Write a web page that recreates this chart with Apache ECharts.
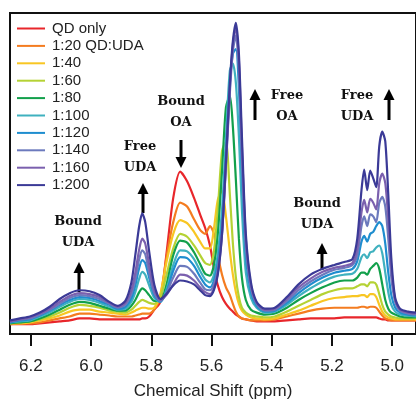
<!DOCTYPE html>
<html>
<head>
<meta charset="utf-8">
<script src="https://cdn.jsdelivr.net/npm/echarts@6/dist/echarts.min.js"></script>
<style>html,body{margin:0;padding:0;background:#fff}#c{width:416px;height:405px}</style>
</head>
<body>
<div id="c"></div>
<script>
// Chemical shift sample positions (ppm)
const ppm = [6.269,6.236,6.203,6.170,6.137,6.104,6.071,6.038,6.005,5.972,
  5.939,5.912,5.886,5.866,5.853,5.840,5.830,5.820,5.807,5.790,
  5.770,5.750,5.727,5.704,5.681,5.658,5.638,5.621,5.605,5.592,
  5.579,5.565,5.552,5.539,5.529,5.519,5.509,5.499,5.486,5.469,
  5.450,5.423,5.390,5.350,5.311,5.271,5.231,5.192,5.159,5.132,
  5.116,5.102,5.093,5.083,5.073,5.063,5.053,5.043,5.033,5.023,
  5.013,5.003,4.990,4.974,4.947,4.921];

const seriesNames = ['QD only','1:20 QD:UDA','1:40','1:60','1:80','1:100','1:120','1:140','1:160','1:200'];

// Intensities (arbitrary units)
const qdOnly = [10,10,10,11,12,13,14,16,16,15, 15,15,15,15,15,15,16,16,18,25, 33,81,140,167,157,140,123,109,91,68, 50,38,31,26,23,20,18,16,15,14, 13,13,13,14,15,16,16,16,17,17, 17,17,17,17,17,17,17,16,15,15, 14,14,14,14,14,14];
const r20 = [10,11,11,12,14,16,18,21,21,20, 19,18,18,18,19,20,21,21,21,25, 38,78,115,135,131,118,107,103,111,103, 81,61,48,40,31,23,18,16,15,14, 14,14,15,18,21,24,26,27,27,27, 27,28,28,27,28,28,27,23,19,16, 15,14,14,14,14,14];
const r40 = [11,11,12,14,16,19,23,25,25,23, 22,21,20,22,24,26,27,27,26,27, 41,73,103,117,114,105,95,88,88,108, 138,147,121,85,61,43,31,24,20,17, 16,15,16,20,24,29,34,37,38,39, 39,40,40,38,41,41,38,30,23,19, 17,16,15,15,15,15];
const r60 = [11,12,13,15,18,22,27,30,29,27, 24,23,22,25,29,33,35,34,32,31, 38,60,88,103,100,91,81,73,71,85, 128,188,198,143,93,58,38,27,22,19, 18,17,18,23,29,35,41,45,47,47, 49,51,51,49,53,53,51,41,30,23, 20,18,17,16,16,16];
const r80 = [11,12,13,16,20,25,30,33,32,29, 26,24,24,29,35,43,47,45,40,34, 34,50,81,96,94,84,72,62,60,71, 103,168,233,245,213,158,98,58,35,25, 22,20,21,27,35,42,48,53,55,55, 58,63,63,61,67,70,73,67,51,35, 26,22,20,18,17,17];
const r100 = [12,13,14,18,22,28,33,36,35,32, 28,25,26,33,43,57,64,61,50,37, 33,45,71,86,85,77,65,56,53,61, 83,128,203,271,278,258,203,128,63,37, 27,22,23,30,39,47,54,59,61,62, 67,79,82,78,84,85,89,91,83,63, 43,30,23,20,19,18];
const r120 = [12,14,15,19,24,30,35,38,37,34, 30,26,28,37,50,68,76,73,58,40, 33,43,65,79,78,70,59,51,48,55, 73,113,183,258,288,293,253,168,81,43, 29,23,24,32,42,51,58,63,65,67, 75,95,101,95,103,105,111,115,111,93, 63,40,27,22,20,19];
const r140 = [13,15,16,20,25,31,37,40,39,36, 31,27,30,41,56,77,86,82,63,42, 34,42,58,70,69,62,53,46,45,51, 67,105,173,248,291,307,271,183,91,47, 31,24,25,34,45,54,61,66,68,71, 81,111,121,111,123,121,115,135,141,131, 98,58,33,24,21,20];
const r160 = [13,15,17,21,26,33,39,42,41,38, 32,28,32,45,63,87,98,93,71,45, 35,40,51,61,60,55,48,43,41,47, 63,103,175,253,298,315,281,193,98,50, 32,25,26,36,48,57,64,68,70,73, 88,125,138,125,139,135,128,155,165,155, 118,68,35,25,22,21];
const r200 = [14,16,18,22,28,36,42,45,44,40, 33,29,34,53,81,111,124,115,85,51, 36,41,50,55,54,51,45,40,39,45, 61,103,178,258,301,320,288,203,103,53, 33,26,27,38,51,61,67,71,74,77, 98,148,169,148,168,160,151,193,208,198, 143,78,37,26,23,22];

const tickValues = [6.2,6.0,5.8,5.6,5.4,5.2,5.0];
const allValues = [qdOnly,r20,r40,r60,r80,r100,r120,r140,r160,r200];
const colors = ['#e8262b','#f47c20','#f8c623','#b5d234','#12a04b','#3fb1bf','#1e8dcf','#6c7abd','#7b60ae','#3b3a97'];

const chart = echarts.init(document.getElementById('c'), null, {renderer:'canvas'});

const series = seriesNames.map((name,k)=>({
  name: name,
  type: 'line',
  symbol: 'none',
  smooth: 0.25,
  lineStyle: {width: 2.2, color: colors[k]},
  itemStyle: {color: colors[k]},
  data: ppm.map((p,i)=>[p, allValues[k][i]]),
  z: 2 + k,
  animation: false
}));

const serif = 'bold 13px "DejaVu Serif"';
function label(text, x, y) {
  return {type:'text', z: 50, style:{text:text, x:x, y:y, align:'center', verticalAlign:'middle',
    font: serif, lineHeight: 21, fill:'#111'}};
}
function arrow(x, tipY, tailY) {
  const up = tailY > tipY;
  const d = up ? 1 : -1;
  return {type:'group', z: 50, children:[
    {type:'line', shape:{x1:x, y1:tipY + d*8, x2:x, y2:tailY}, style:{stroke:'#000', lineWidth:3}},
    {type:'polygon', shape:{points:[[x, tipY],[x-5.5, tipY + d*11],[x+5.5, tipY + d*11]]}, style:{fill:'#000'}}
  ]};
}

chart.setOption({
  animation: false,
  backgroundColor: '#fff',
  grid: {left: 10, top: 13, right: -2, bottom: 62, show: true, borderColor: '#111', borderWidth: 2, backgroundColor: 'transparent'},
  legend: {
    left: 12, top: 16, orient: 'vertical', icon: 'rect', itemWidth: 28, itemHeight: 2, itemGap: 2.4,
    textStyle: {fontSize: 15, fontFamily: 'Liberation Sans, Arial, sans-serif', color: '#222', padding: [0,0,0,2]},
    data: seriesNames
  },
  xAxis: {
    type: 'value', inverse: true, min: 4.921, max: 6.269,
    axisLine: {show: true, lineStyle: {color: '#111', width: 2}},
    axisTick: {show: true, customValues: tickValues, length: 12, inside: false, lineStyle: {color: '#111', width: 2}},
    axisLabel: {customValues: tickValues, formatter: v => v.toFixed(1), fontSize: 17, margin: 24,
      fontFamily: 'Liberation Sans, Arial, sans-serif', color: '#222'},
    splitLine: {show: false},
    name: 'Chemical Shift (ppm)', nameLocation: 'middle', nameGap: 49,
    nameTextStyle: {fontSize: 17, fontFamily: 'Liberation Sans, Arial, sans-serif', color: '#222'}
  },
  yAxis: {type: 'value', min: 0, max: 330, show: false},
  series: series,
  graphic: [
    label('Bound\nUDA', 78, 232),
    arrow(79, 262, 292),
    label('Free\nUDA', 140, 157),
    arrow(143, 183, 213),
    label('Bound\nOA', 181, 112),
    arrow(181, 168, 140),
    arrow(255, 89, 120),
    label('Free\nOA', 287, 106),
    label('Free\nUDA', 357, 106),
    arrow(389, 89, 120),
    label('Bound\nUDA', 317, 214),
    arrow(322, 243, 270)
  ]
});
</script>
</body>
</html>
